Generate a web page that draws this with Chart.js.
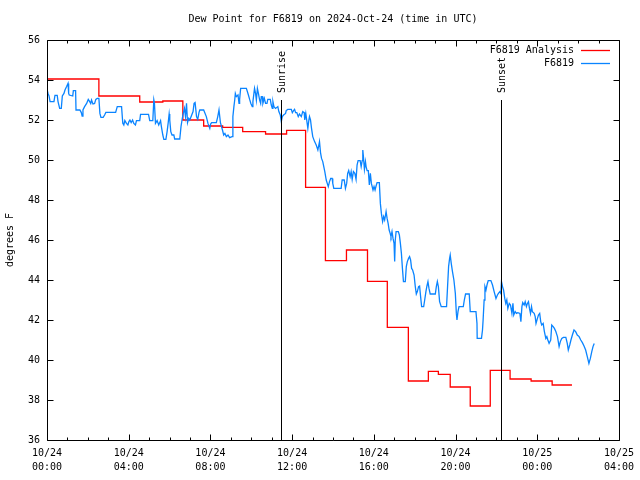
<!DOCTYPE html>
<html><head><meta charset="utf-8">
<script src="https://cdn.jsdelivr.net/npm/chart.js@4/dist/chart.umd.min.js"></script>
<style>html,body{margin:0;padding:0;background:#fff}#wrap{width:640px;height:480px}</style>
</head><body><div id="wrap"><canvas id="c" width="640" height="480"></canvas></div>
<script>
const titleText = 'Dew Point for F6819 on 2024-Oct-24 (time in UTC)';
const yAxisLabel = 'degrees F';
const seriesNames = ['F6819 Analysis', 'F6819'];
const xTickHours = [0, 4, 8, 12, 16, 20, 24, 28];
const xTickDates = ['10/24', '10/24', '10/24', '10/24', '10/24', '10/24', '10/25', '10/25'];
const xTickTimes = ['00:00', '04:00', '08:00', '12:00', '16:00', '20:00', '00:00', '04:00'];
const yTickValues = [36, 38, 40, 42, 44, 46, 48, 50, 52, 54, 56];
const sunNames = ['Sunrise', 'Sunset'];
const sunHours = [11.48, 22.23];
const sunMarkerTop = 53;

// F6819 Analysis (hours since 10/24 00:00 UTC, deg F) - held until next time
const analysisHours = [0, 2.54, 4.54, 5.67, 6.65, 7.67, 8.6, 9.58, 10.70, 11.73, 12.66, 13.63, 14.66, 15.69, 16.66, 17.69, 18.67, 19.16, 19.74, 20.72, 21.70, 22.67, 23.70, 24.73, 25.70];
const analysisValues = [54.05, 53.2, 52.9, 52.95, 52.0, 51.7, 51.63, 51.42, 51.3, 51.48, 48.63, 44.97, 45.5, 43.93, 41.63, 38.95, 39.43, 39.28, 38.65, 37.7, 39.48, 39.05, 38.95, 38.75, 38.75];

// F6819 observations
const obsHours = [
0.01,0.05,0.10,0.15,0.34,0.39,0.50,0.54,0.62,0.70,
0.75,0.83,0.88,0.96,1.03,1.06,1.09,1.26,1.29,1.40,
1.42,1.61,1.68,1.72,1.76,1.84,1.94,2.02,2.09,2.14,
2.18,2.25,2.33,2.39,2.46,2.54,2.59,2.64,2.75,2.82,
2.88,3.36,3.44,3.65,3.71,3.76,3.81,3.89,3.96,4.01,
4.06,4.12,4.19,4.25,4.33,4.38,4.54,4.58,4.97,5.03,
5.18,5.23,5.26,5.31,5.39,5.47,5.56,5.60,5.67,5.72,
5.82,5.88,5.93,5.98,6.01,6.06,6.12,6.21,6.25,6.50,
6.56,6.61,6.66,6.73,6.78,6.83,6.88,6.94,6.99,7.15,
7.20,7.25,7.32,7.38,7.44,7.48,7.67,7.80,7.88,7.97,
8.01,8.06,8.29,8.36,8.42,8.49,8.59,8.65,8.71,8.78,
8.86,8.94,9.06,9.10,9.15,9.19,9.22,9.27,9.35,9.40,
9.43,9.48,9.76,9.86,9.92,9.98,10.05,10.08,10.13,10.16,
10.21,10.25,10.30,10.35,10.41,10.46,10.49,10.54,10.57,10.64,
10.70,10.77,10.81,10.93,10.98,11.03,11.06,11.11,11.19,11.30,
11.35,11.42,11.47,11.52,11.58,11.68,11.71,11.79,11.96,12.01,
12.07,12.12,12.17,12.23,12.30,12.36,12.45,12.52,12.59,12.62,
12.67,12.77,12.82,12.85,12.90,12.95,13.01,13.10,13.18,13.26,
13.34,13.39,13.44,13.50,13.55,13.60,13.67,13.72,13.77,13.83,
13.89,13.96,13.99,14.04,14.40,14.45,14.55,14.61,14.67,14.72,
14.77,14.84,14.89,14.94,15.00,15.07,15.13,15.18,15.23,15.33,
15.38,15.43,15.46,15.49,15.54,15.59,15.62,15.67,15.73,15.78,
15.83,15.88,15.96,16.01,16.06,16.11,16.16,16.27,16.32,16.37,
16.43,16.48,16.53,16.60,16.65,16.70,16.75,16.80,16.84,16.89,
16.94,16.99,17.02,17.05,17.09,17.20,17.25,17.30,17.35,17.40,
17.45,17.54,17.59,17.64,17.70,17.75,17.80,17.85,17.90,17.97,
18.03,18.08,18.13,18.19,18.24,18.29,18.34,18.44,18.49,18.55,
18.60,18.65,18.70,18.76,19.01,19.06,19.11,19.16,19.22,19.30,
19.56,19.61,19.66,19.71,19.74,19.79,19.85,19.92,19.99,20.04,
20.07,20.12,20.17,20.38,20.43,20.49,20.67,20.72,21.00,21.05,
21.06,21.27,21.32,21.35,21.40,21.44,21.49,21.54,21.60,21.73,
21.81,21.89,21.98,22.05,22.10,22.17,22.22,22.25,22.30,22.35,
22.41,22.46,22.51,22.56,22.63,22.69,22.76,22.81,22.85,22.92,
22.98,23.05,23.15,23.20,23.25,23.29,23.36,23.41,23.47,23.52,
23.57,23.62,23.67,23.72,23.76,23.85,23.90,23.94,24.01,24.06,
24.12,24.17,24.22,24.29,24.35,24.42,24.47,24.52,24.58,24.66,
24.71,24.78,24.84,24.91,24.99,25.07,25.13,25.20,25.28,25.40,
25.47,25.52,25.59,25.65,25.72,25.80,25.88,25.96,26.05,26.13,
26.21,26.29,26.37,26.45,26.53,26.60,26.67,26.73,26.79
];
const obsValues = [
53.5,53.33,53.2,52.92,52.92,53.23,53.23,52.92,52.58,52.58,
53.2,53.33,53.5,53.67,53.83,53.33,53.25,53.2,53.47,53.47,
52.5,52.5,52.37,52.2,52.5,52.67,52.83,53.03,52.92,52.83,
53.0,52.8,52.83,53.03,53.08,53.08,52.33,52.13,52.13,52.25,
52.38,52.38,52.67,52.67,51.83,51.75,51.97,51.83,51.75,51.92,
52.0,51.87,52.0,51.83,51.75,51.97,51.97,52.28,52.28,51.97,
51.97,53.0,52.83,51.83,51.97,51.75,51.97,51.67,51.25,51.03,
51.03,51.42,51.83,52.3,52.0,51.42,51.25,51.25,51.05,51.05,
51.67,52.0,52.28,52.58,52.17,52.83,51.87,52.08,52.0,52.42,
52.83,52.87,52.17,52.03,52.37,52.5,52.5,52.17,51.83,51.58,
51.8,51.87,51.87,52.17,52.5,51.87,51.5,51.25,51.33,51.17,
51.25,51.12,51.17,52.17,52.67,53.0,53.33,53.17,53.25,52.83,
53.03,53.58,53.58,53.25,53.03,52.83,52.67,52.92,53.33,53.58,
53.33,53.0,53.58,53.33,53.0,52.83,53.17,53.17,52.83,53.08,
52.83,52.83,53.03,53.03,52.75,52.58,52.92,52.67,52.58,52.67,
52.42,52.25,51.92,52.17,52.25,52.33,52.47,52.53,52.53,52.37,
52.47,52.53,52.37,52.37,52.17,52.3,52.17,52.42,52.37,52.0,
52.33,51.58,52.0,52.17,52.0,51.58,51.17,50.92,50.75,50.5,
50.92,50.37,50.08,49.92,49.67,49.42,49.0,48.83,48.67,48.92,
49.08,49.08,48.83,48.58,48.58,49.0,49.0,48.58,48.83,49.33,
49.47,49.17,49.42,49.03,49.42,49.33,49.03,49.75,49.97,49.97,
49.67,49.97,50.5,50.17,49.53,49.92,49.67,49.47,49.47,48.75,
49.33,48.83,48.5,48.67,48.5,48.7,48.87,48.87,47.83,47.33,
46.92,47.17,47.0,47.42,47.08,46.83,46.5,46.33,46.17,46.42,
46.08,45.83,44.92,46.0,46.42,46.42,46.25,45.83,45.33,44.58,
43.92,43.92,44.67,44.92,45.08,45.17,45.0,44.58,44.5,44.25,
43.67,43.3,43.42,43.67,43.7,43.17,42.67,42.67,43.0,43.42,
43.7,43.92,43.58,43.3,43.3,43.67,43.92,43.67,42.92,42.67,
42.67,43.67,44.67,45.08,45.25,44.83,44.42,44.0,43.33,42.33,
42.0,42.42,42.67,42.67,43.0,43.3,43.3,42.42,42.42,41.83,
41.08,41.08,41.5,42.0,43.0,43.67,43.5,43.75,43.97,43.97,
43.75,43.42,43.08,43.25,43.33,43.42,43.33,43.92,43.67,43.5,
43.08,42.83,43.0,42.58,42.83,42.75,42.33,42.83,42.25,42.42,
42.33,42.37,42.33,41.92,42.67,42.87,42.75,42.92,42.67,42.83,
42.92,42.58,42.33,42.67,42.42,42.33,42.17,41.83,42.08,42.25,
42.33,41.92,41.75,41.83,41.42,41.08,41.17,41.0,40.83,41.0,
41.75,41.67,41.58,41.42,41.17,40.67,40.92,41.08,41.13,41.13,
40.83,40.5,40.75,41.0,41.25,41.5,41.42,41.25,41.17,41.0,
40.87,40.7,40.5,40.17,39.83,40.08,40.42,40.67,40.83
];

const RED = '#ff0000';
const BLUE = '#0a84ff';
const FONT = "'DejaVu Sans Mono', 'Liberation Mono', monospace";

const gnuFrame = {
  id: 'gnuFrame',
  afterDatasetsDraw(chart) {
    const ctx = chart.ctx;
    const a = chart.chartArea;
    const xs = chart.scales.x, ys = chart.scales.y;
    ctx.save();
    // sunrise / sunset markers
    ctx.strokeStyle = '#000';
    ctx.lineWidth = 1;
    ctx.fillStyle = '#000';
    ctx.font = '10px ' + FONT;
    for (let i = 0; i < sunHours.length; i++) {
      const px = Math.round(xs.getPixelForValue(sunHours[i])) + 0.5;
      const top = Math.round(ys.getPixelForValue(sunMarkerTop));
      ctx.beginPath();
      ctx.moveTo(px, top);
      ctx.lineTo(px, a.bottom);
      ctx.stroke();
      ctx.save();
      ctx.translate(px + 1, top - 7);
      ctx.rotate(-Math.PI / 2);
      ctx.textAlign = 'left';
      ctx.textBaseline = 'middle';
      ctx.fillText(sunNames[i], 0, 0);
      ctx.restore();
    }
    // border
    const L = Math.round(a.left) + 0.5, R = Math.round(a.right) + 0.5;
    const T = Math.round(a.top) + 0.5, B = Math.round(a.bottom) + 0.5;
    ctx.beginPath();
    ctx.rect(L, T, R - L, B - T);
    ctx.stroke();
    // y ticks (both sides)
    ctx.beginPath();
    for (const v of yTickValues) {
      const py = Math.round(ys.getPixelForValue(v)) + 0.5;
      ctx.moveTo(L, py); ctx.lineTo(L + 6, py);
      ctx.moveTo(R, py); ctx.lineTo(R - 6, py);
    }
    // x ticks (bottom & top), major every 4h, minor every hour
    for (let h = 0; h <= 28; h++) {
      const px = Math.round(xs.getPixelForValue(h)) + 0.5;
      const len = (h % 4 === 0) ? 6 : 3;
      ctx.moveTo(px, B); ctx.lineTo(px, B - len);
      ctx.moveTo(px, T); ctx.lineTo(px, T + len);
    }
    ctx.stroke();
    // title
    ctx.font = '10px ' + FONT;
    ctx.textAlign = 'center';
    ctx.textBaseline = 'middle';
    ctx.fillText(titleText, (a.left + a.right) / 2, 19);
    // y axis label
    ctx.save();
    ctx.translate(10, (a.top + a.bottom) / 2);
    ctx.rotate(-Math.PI / 2);
    ctx.fillText(yAxisLabel, 0, 0);
    ctx.restore();
    // legend
    const colors = [RED, BLUE];
    for (let i = 0; i < seriesNames.length; i++) {
      const y = 50 + i * 13 + 0.5;
      ctx.textAlign = 'right';
      ctx.fillStyle = '#000';
      ctx.fillText(seriesNames[i], 574, y);
      ctx.strokeStyle = colors[i];
      ctx.lineWidth = 1.3;
      ctx.beginPath();
      ctx.moveTo(581, y); ctx.lineTo(610, y);
      ctx.stroke();
    }
    ctx.restore();
  }
};

const analysisData = analysisHours.map((h, i) => ({x: h, y: analysisValues[i]}));
const obsData = obsHours.map((h, i) => ({x: h, y: obsValues[i]}));

new Chart(document.getElementById('c'), {
  type: 'line',
  data: {
    datasets: [
      {label: seriesNames[1], data: obsData, borderColor: BLUE, borderWidth: 1.3, pointRadius: 0, tension: 0, fill: false},
      {label: seriesNames[0], data: analysisData, borderColor: RED, borderWidth: 1.3, pointRadius: 0, stepped: 'before', fill: false}
    ]
  },
  options: {
    responsive: false,
    animation: false,
    devicePixelRatio: 1,
    layout: {padding: {top: 40, right: 20, left: 0, bottom: 0}},
    plugins: {legend: {display: false}, title: {display: false}, tooltip: {enabled: false}},
    scales: {
      x: {
        type: 'linear', min: 0, max: 28,
        grid: {display: false, drawTicks: false},
        border: {display: false},
        afterFit(s) { s.height = 40; },
        afterBuildTicks(s) { s.ticks = xTickHours.map(v => ({value: v})); },
        ticks: {
          autoSkip: false, maxRotation: 0, minRotation: 0, padding: 6, color: '#000',
          font: {family: FONT, size: 10, lineHeight: 1.4},
          callback(v) { const i = xTickHours.indexOf(v); return i < 0 ? '' : [xTickDates[i], xTickTimes[i]]; }
        }
      },
      y: {
        type: 'linear', min: 36, max: 56,
        grid: {display: false, drawTicks: false},
        border: {display: false},
        afterFit(s) { s.width = 47; },
        afterBuildTicks(s) { s.ticks = yTickValues.map(v => ({value: v})); },
        ticks: {padding: 7, color: '#000', font: {family: FONT, size: 10}}
      }
    }
  },
  plugins: [gnuFrame]
});
</script></body></html>
